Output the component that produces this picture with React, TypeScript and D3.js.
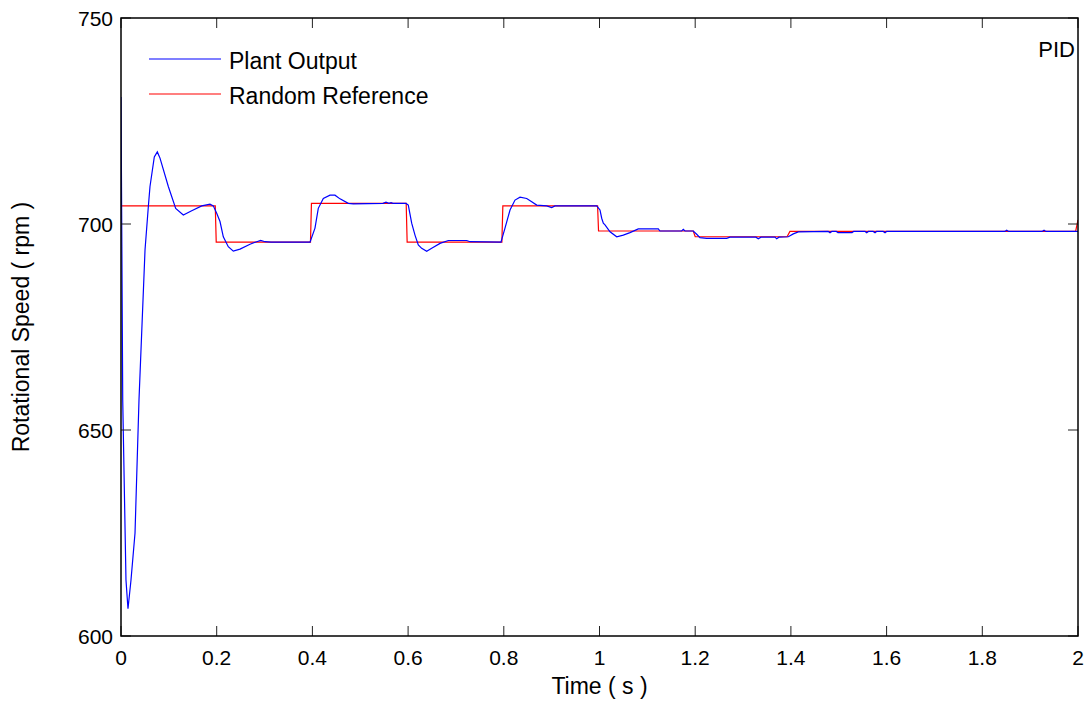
import React from "react";
import * as d3 from "d3";

const plantTime = [
  0, 0.0036, 0.0104, 0.0146, 0.0209, 0.0293, 0.0376, 0.0502, 0.0571, 0.0606, 0.0696, 0.0759, 0.0815,
  0.0989, 0.1143, 0.1302, 0.1478, 0.1687, 0.186, 0.1929, 0.2, 0.2069, 0.2138, 0.2242, 0.2347, 0.2487,
  0.2696, 0.2836, 0.292, 0.301, 0.3135, 0.395, 0.4054, 0.4123, 0.4228, 0.4368, 0.4472, 0.4577, 0.475,
  0.4855, 0.5475, 0.5538, 0.56, 0.5643, 0.5684, 0.5956, 0.6004, 0.6075, 0.6144, 0.6213, 0.6284, 0.6389,
  0.6493, 0.6667, 0.684, 0.7225, 0.7294, 0.7941, 0.8025, 0.813, 0.8234, 0.8339, 0.8479, 0.8583, 0.8688,
  0.8897, 0.9001, 0.907, 0.9942, 1.001, 1.0046, 1.008, 1.0115, 1.022, 1.036, 1.0497, 1.0637, 1.0811,
  1.1229, 1.1264, 1.1718, 1.1751, 1.1787, 1.196, 1.2031, 1.21, 1.224, 1.2658, 1.2727, 1.327, 1.3318,
  1.3375, 1.3668, 1.3703, 1.3751, 1.3946, 1.405, 1.4155, 1.478, 1.4817, 1.4855, 1.495, 1.4984, 1.5277,
  1.531, 1.555, 1.5584, 1.562, 1.572, 1.5758, 1.579, 1.593, 1.5967, 1.6, 1.847, 1.851, 1.855, 1.925,
  1.929, 1.933, 2.0,
];
const plantSpeed = [
  730.8, 657.3, 613.6, 606.6, 613.6, 625.0, 657.3, 693.7, 704.2, 709.1, 716.3, 717.5, 716.0,
  709.1, 703.8, 702.2, 703.2, 704.4, 704.8, 704.4, 702.6, 700.6, 696.9, 694.5, 693.4, 693.9,
  695.1, 695.7, 696.0, 695.7, 695.6, 695.6, 699.0, 703.8, 706.2, 707.0, 707.0, 706.1, 705.0,
  704.9, 705.0, 705.3, 705.0, 705.2, 705.0, 705.0, 704.6, 700.2, 697.3, 694.9, 694.1, 693.4,
  694.1, 695.3, 696.0, 696.0, 695.7, 695.6, 699.0, 703.4, 705.8, 706.5, 706.2, 705.4, 704.6,
  704.4, 704.0, 704.4, 704.4, 703.4, 701.4, 700.2, 699.8, 698.1, 696.9, 697.3, 697.9, 698.8,
  698.8, 698.3, 698.3, 698.7, 698.3, 698.3, 697.5, 696.7, 696.5, 696.5, 696.8, 696.8, 696.4,
  696.8, 696.8, 696.4, 696.8, 696.9, 697.6, 698.1, 698.2, 697.9, 698.2, 698.2, 697.9, 697.9,
  698.2, 698.2, 697.9, 698.2, 698.2, 697.9, 698.2, 698.2, 697.9, 698.2, 698.2, 698.5, 698.2, 698.2,
  698.5, 698.2, 698.2,
];

const refTime = [0, 0.197, 0.199, 0.396, 0.398, 0.596, 0.598, 0.796, 0.798, 0.996, 0.998, 1.196, 1.2, 1.392, 1.398, 1.995, 2.0];
const refSpeed = [704.4, 704.4, 695.6, 695.6, 705.0, 705.0, 695.6, 695.6, 704.4, 704.4, 698.3, 698.3, 696.9, 696.9, 698.2, 698.2, 701.0];

const xTicks = [0, 0.2, 0.4, 0.6, 0.8, 1, 1.2, 1.4, 1.6, 1.8, 2];
const yTicks = [600, 650, 700, 750];

const legendItems = ["Plant Output", "Random Reference"];
const legendColors = ["#0000ff", "#ff0000"];

const W = 1085;
const H = 716;
const L = 121;
const R = 1078;
const T = 18;
const B = 636;
const FONT = "Arial, 'Liberation Sans', Helvetica, sans-serif";
const FS_TICK = 21;
const FS = 23;

export default function App() {
  const x = d3.scaleLinear().domain([0, 2]).range([L, R]);
  const y = d3.scaleLinear().domain([600, 750]).range([B, T]);
  const plant = plantTime.map((t, i) => [t, plantSpeed[i]] as [number, number]);
  const ref = refTime.map((t, i) => [t, refSpeed[i]] as [number, number]);
  const line = d3
    .line<[number, number]>()
    .x((d) => x(d[0]))
    .y((d) => y(d[1]));
  const tickLen = 10;
  return (
    <svg
      width={W}
      height={H}
      style={{ position: "absolute", left: 0, top: 0, background: "#fff" }}
      fontFamily={FONT}
    >
      <rect x={0} y={0} width={W} height={H} fill="#fff" />
      <defs>
        <clipPath id="plotclip">
          <rect x={L} y={T} width={R - L} height={B - T} />
        </clipPath>
      </defs>
      <g clipPath="url(#plotclip)">
        <path d={line(ref) || ""} fill="none" stroke="#ff0000" strokeWidth={1.2} />
        <path d={line(plant) || ""} fill="none" stroke="#0000ff" strokeWidth={1.2} />
      </g>
      {xTicks.map((t) => (
        <g key={"xt" + t}>
          <line x1={x(t)} x2={x(t)} y1={B} y2={B - tickLen} stroke="#222" strokeWidth={1} />
          <line x1={x(t)} x2={x(t)} y1={T} y2={T + tickLen} stroke="#222" strokeWidth={1} />
          <text x={x(t)} y={B + 29} textAnchor="middle" fontSize={FS_TICK} fill="#000">
            {String(t)}
          </text>
        </g>
      ))}
      {yTicks.map((v) => (
        <g key={"yt" + v}>
          <line x1={L} x2={L + tickLen} y1={y(v)} y2={y(v)} stroke="#222" strokeWidth={1} />
          <line x1={R} x2={R - tickLen} y1={y(v)} y2={y(v)} stroke="#222" strokeWidth={1} />
          <text x={L - 8} y={y(v) + 7.5} textAnchor="end" fontSize={FS_TICK} fill="#000">
            {String(v)}
          </text>
        </g>
      ))}
      <rect x={L} y={T} width={R - L} height={B - T} fill="none" stroke="#000" strokeWidth={1.5} />
      {legendItems.map((name, i) => (
        <g key={name}>
          <line x1={149} x2={221} y1={59 + i * 35} y2={59 + i * 35} stroke={legendColors[i]} strokeWidth={1.2} />
          <text x={229} y={69 + i * 35} fontSize={FS} fill="#000">
            {name}
          </text>
        </g>
      ))}
      <text x={1075} y={57} textAnchor="end" fontSize={22} fill="#000">
        PID
      </text>
      <text x={(L + R) / 2} y={694} textAnchor="middle" fontSize={FS} fill="#000">
        Time ( s )
      </text>
      <text
        transform={`translate(29, ${(T + B) / 2}) rotate(-90)`}
        textAnchor="middle"
        fontSize={FS}
        fill="#000"
      >
        Rotational Speed ( rpm )
      </text>
    </svg>
  );
}
